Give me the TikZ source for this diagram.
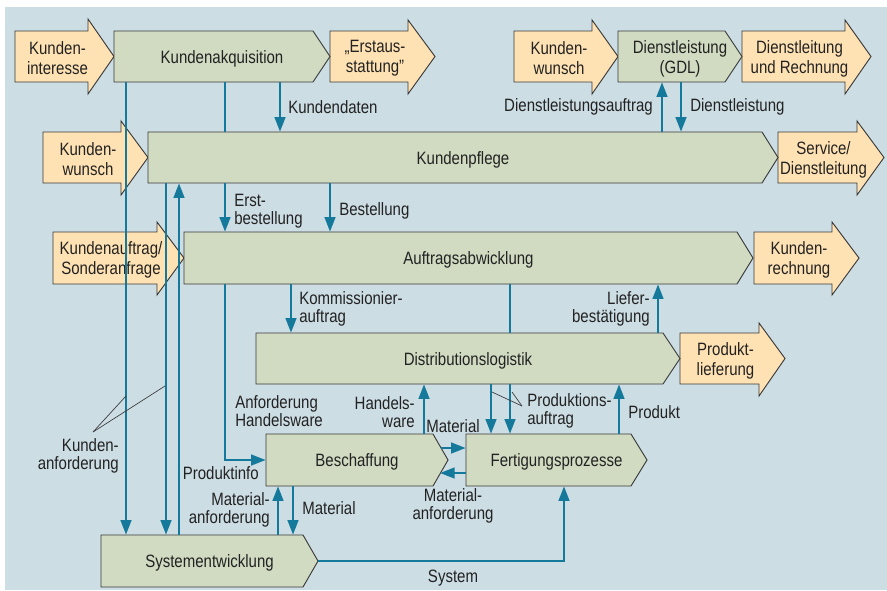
\documentclass[tikz,border=0pt]{standalone}
\usepackage{fontspec}
\setmainfont[FakeStretch=0.84]{Liberation Sans}
\usetikzlibrary{arrows.meta}
\definecolor{bgc}{HTML}{CCDDE4}
\definecolor{greenc}{HTML}{D0DBC1}
\definecolor{orangec}{HTML}{FFE2B3}
\definecolor{flowc}{HTML}{15799B}
\definecolor{edgec}{HTML}{3A3A3A}
\definecolor{txtc}{HTML}{222222}
\tikzset{
  gbox/.style={fill=greenc, draw=edgec, line width=0.7pt},
  obox/.style={fill=orangec, draw=edgec, line width=0.7pt},
  boxtext/.style={inner sep=0pt, align=center, text=txtc, font=\fontsize{13.4pt}{15pt}\selectfont},
  lbl/.style={inner sep=0pt, text=txtc, font=\fontsize{13.4pt}{13.8pt}\selectfont},
  fline/.style={draw=flowc, line width=1.8pt},
  flow/.style={fline, -{Triangle[length=11pt,width=8pt]}},
  leader/.style={draw=edgec, line width=0.5pt}
}
% green process shape: name, x1, x2 (pointer start), xtip, ytop, ybottom, text
\newcommand\gshape[7]{%
  \draw[gbox] (#2,#5) -- (#3,#5) -- (#4,{(#5+#6)/2}) -- (#3,#6) -- (#2,#6) -- cycle;
  \node[boxtext, minimum width={(#4-#2)*0.75pt}, minimum height={(#6-#5)*0.75pt}] (#1) at ({(#2+#4)/2},{(#5+#6)/2}) {};
  \node[boxtext] (#1-t) at ({(#2+#4)/2},{(#5+#6)/2+2}) {#7};
}
% orange arrow: name, x1, xhead, xtip, ytop, ybottom, headtop, headbottom, text
\newcommand\oshape[9]{%
  \draw[obox] (#2,#5) -- (#3,#5) -- (#3,#7) -- (#4,{(#5+#6)/2}) -- (#3,#8) -- (#3,#6) -- (#2,#6) -- cycle;
  \node[boxtext] (#1) at ({(#2+#3)/2+6},{(#5+#6)/2+2}) {#9};
}
\begin{document}
\begin{tikzpicture}[x=0.75pt,y=-0.75pt]
\useasboundingbox (0,0) rectangle (887,590);
\fill[bgc] (5,7) rectangle (887,590);

% orange input/output arrows
\oshape{kint}{15}{88}{114}{31}{82}{19}{94}{Kunden-\\interesse}
\oshape{erst}{330}{408}{435}{31}{82}{20}{94}{„Erstaus-\\stattung"}
\oshape{kwr}{514}{592}{618}{31}{82}{20}{94}{Kunden-\\wunsch}
\oshape{dlr}{742}{845}{871}{31}{82}{20}{94}{Dienstleitung\\und Rechnung}
\oshape{kwl}{43}{121}{148}{132}{183}{121}{195}{Kunden-\\wunsch}
\oshape{serv}{778}{857}{884}{132}{183}{121}{195}{Service/\\Dienstleitung}
\oshape{kauf}{53}{157}{184}{232}{284}{222}{295}{Kundenauftrag/\\Sonderanfrage}
\oshape{krech}{754}{832}{859}{232}{284}{222}{295}{Kunden-\\rechnung}
\oshape{plief}{680}{759}{785}{333}{384}{323}{396}{Produkt-\\lieferung}

% green process boxes
\gshape{akq}{114}{313}{330}{31}{82}{Kundenakquisition}
\gshape{gdl}{618}{725}{742}{31}{82}{Dienstleistung\\(GDL)}
\gshape{pflege}{148}{762}{778}{132}{183}{Kundenpflege}
\gshape{auftrag}{184}{737}{753}{232}{284}{Auftragsabwicklung}
\gshape{distrib}{256}{663}{680}{333}{384}{Distributionslogistik}
\gshape{besch}{266}{433}{448}{434}{486}{Beschaffung}
\gshape{fert}{466}{631}{647}{434}{486}{Fertigungsprozesse}
\gshape{sys}{101}{303}{318}{535}{587}{Systementwicklung}

\coordinate (bmat) at (441,448);
\coordinate (bmreq) at (440,473);

% flows
\draw[flow] (akq.south -| 126,0) -- (sys.north -| 126,0);
\draw[flow] (pflege.south -| 166,0) -- (sys.north -| 166,0);
\draw[flow] (sys.north -| 179,0) -- (pflege.south -| 179,0);
\draw[fline] (akq.south -| 225,0) -- (pflege.north -| 225,0);
\draw[flow] (pflege.south -| 225,0) -- (auftrag.north -| 225,0);
\draw[flow] (auftrag.south -| 225,0) |- (besch.west);
\draw[flow] (akq.south -| 280,0) -- (pflege.north -| 280,0);
\draw[flow] (pflege.south -| 330,0) -- (auftrag.north -| 330,0);
\draw[flow] (pflege.north -| 662,0) -- (gdl.south -| 662,0);
\draw[flow] (gdl.south -| 681,0) -- (pflege.north -| 681,0);
\draw[flow] (auftrag.south -| 291,0) -- (distrib.north -| 291,0);
\draw[fline] (auftrag.south -| 510,0) -- (distrib.north -| 510,0);
\draw[flow] (distrib.south -| 510,0) -- (fert.north -| 510,0);
\draw[flow] (distrib.south -| 491,0) -- (fert.north -| 491,0);
\draw[flow] (distrib.north -| 658,0) -- (auftrag.south -| 658,0);
\draw[flow] (besch.north -| 424,0) -- (distrib.south -| 424,0);
\draw[flow] (fert.north -| 619,0) -- (distrib.south -| 619,0);
\draw[flow] (bmat) -- (fert.west |- bmat);
\draw[flow] (fert.west |- bmreq) -- (bmreq);
\draw[flow] (sys.north -| 278,0) -- (besch.south -| 278,0);
\draw[flow] (besch.south -| 293,0) -- (sys.north -| 293,0);
\draw[flow] (sys.east) -| (fert.south -| 564,0);

% leader lines
\coordinate (kaL) at (93,432);
\coordinate (paL) at (522,406);
\draw[leader] (kaL) -- (126,396);
\draw[leader] (kaL) -- (165,386);
\draw[leader] (paL) -- (492,392);
\draw[leader] (paL) -- (512,392);

% labels
\node[lbl, anchor=west] (l1) at (288,107) {Kundendaten};
\node[lbl, anchor=east] (l2) at (653,107) {Dienstleistungsauftrag};
\node[lbl, anchor=west] (l3) at (690,107) {Dienstleistung};
\node[lbl, anchor=west, align=left] (l4) at (234,211) {Erst-\\bestellung};
\node[lbl, anchor=west] (l5) at (339,211) {Bestellung};
\node[lbl, anchor=west, align=left] (l6) at (299,309) {Kommissionier-\\auftrag};
\node[lbl, anchor=east, align=right] (l7) at (650,309) {Liefer-\\bestätigung};
\node[lbl, anchor=west, align=left] (l8) at (235,411) {Anforderung\\Handelsware};
\node[lbl, anchor=east, align=right] (l9) at (415,412) {Handels-\\ware};
\node[lbl] (l10) at (453,426) {Material};
\node[lbl, anchor=west, align=left] (l11) at (527,411) {Produktions-\\auftrag};
\node[lbl, anchor=west] (l12) at (628,412) {Produkt};
\node[lbl, anchor=east, align=right] (l13) at (119,456) {Kunden-\\anforderung};
\node[lbl, anchor=east] (l14) at (259,473) {Produktinfo};
\node[lbl, anchor=east, align=right] (l15) at (270,510) {Material-\\anforderung};
\node[lbl, anchor=west] (l16) at (302,508) {Material};
\node[lbl, align=center] (l17) at (453,506) {Material-\\anforderung};
\node[lbl] (l18) at (453,578) {System};
\end{tikzpicture}
\end{document}
